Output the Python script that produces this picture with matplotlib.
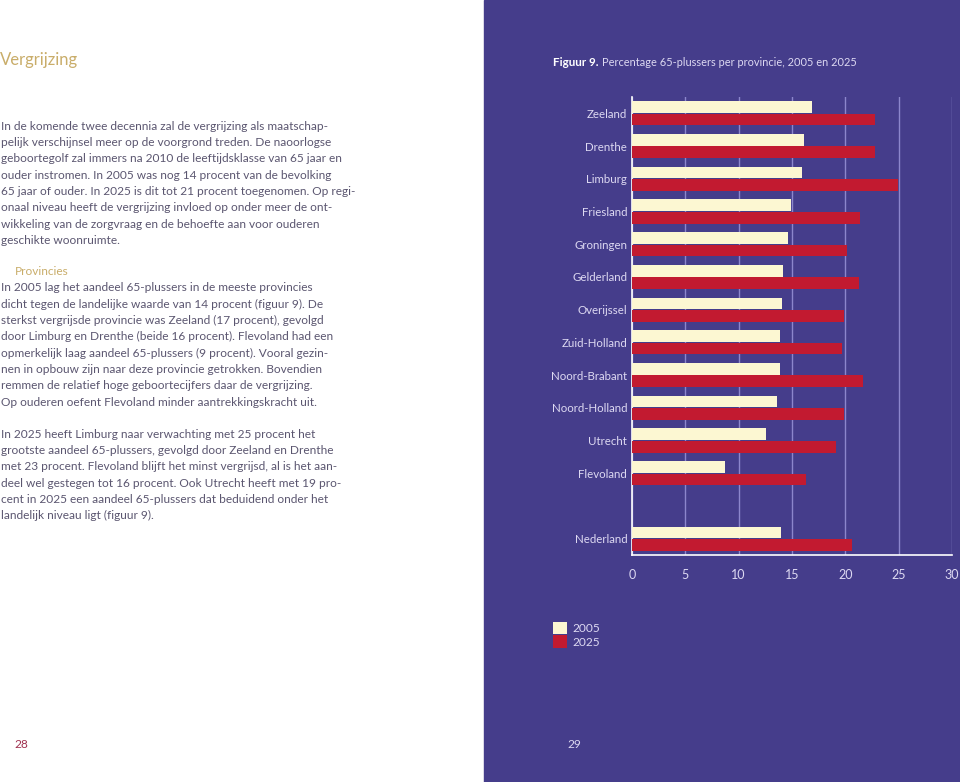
import matplotlib.pyplot as plt
import matplotlib.patches as mpatches
import numpy as np

# data
provincies = ["Zeeland", "Drenthe", "Limburg", "Friesland", "Groningen",
              "Gelderland", "Overijssel", "Zuid-Holland", "Noord-Brabant",
              "Noord-Holland", "Utrecht", "Flevoland", "Nederland"]
pct_2005 = [16.9, 16.1, 15.9, 14.9, 14.6, 14.2, 14.1, 13.9, 13.9, 13.6, 12.6, 8.7, 14.0]
pct_2025 = [22.8, 22.8, 24.9, 21.4, 20.2, 21.3, 19.9, 19.7, 21.7, 19.9, 19.1, 16.3, 20.6]
jaren = ["2005", "2025"]
xticks = [0, 5, 10, 15, 20, 25, 30]

paragraaf1 = [
    "In de komende twee decennia zal de vergrijzing als maatschap-",
    "pelijk verschijnsel meer op de voorgrond treden. De naoorlogse",
    "geboortegolf zal immers na 2010 de leeftijdsklasse van 65 jaar en",
    "ouder instromen. In 2005 was nog 14 procent van de bevolking",
    "65 jaar of ouder. In 2025 is dit tot 21 procent toegenomen. Op regi-",
    "onaal niveau heeft de vergrijzing invloed op onder meer de ont-",
    "wikkeling van de zorgvraag en de behoefte aan voor ouderen",
    "geschikte woonruimte.",
]
paragraaf2 = [
    "In 2005 lag het aandeel 65-plussers in de meeste provincies",
    "dicht tegen de landelijke waarde van 14 procent (figuur 9). De",
    "sterkst vergrijsde provincie was Zeeland (17 procent), gevolgd",
    "door Limburg en Drenthe (beide 16 procent). Flevoland had een",
    "opmerkelijk laag aandeel 65-plussers (9 procent). Vooral gezin-",
    "nen in opbouw zijn naar deze provincie getrokken. Bovendien",
    "remmen de relatief hoge geboortecijfers daar de vergrijzing.",
    "Op ouderen oefent Flevoland minder aantrekkingskracht uit.",
]
paragraaf3 = [
    "In 2025 heeft Limburg naar verwachting met 25 procent het",
    "grootste aandeel 65-plussers, gevolgd door Zeeland en Drenthe",
    "met 23 procent. Flevoland blijft het minst vergrijsd, al is het aan-",
    "deel wel gestegen tot 16 procent. Ook Utrecht heeft met 19 pro-",
    "cent in 2025 een aandeel 65-plussers dat beduidend onder het",
    "landelijk niveau ligt (figuur 9).",
]

paars = "#453d8b"
creme = "#fcf7d2"
rood = "#c21a30"
licht = "#ddd9f2"
grijs = "#5b5670"
goud = "#c9ad6a"

plt.rcParams["font.family"] = ["Lato", "DejaVu Sans"]

W, H = 960, 782
fig = plt.figure(figsize=(9.6, 7.82), dpi=100)
fig.patch.set_facecolor("white")

# purple right-hand page
fig.add_artist(mpatches.Rectangle((484 / W, 0), 1 - 484 / W, 1,
                                  transform=fig.transFigure, color=paars, zorder=0))

# left page text
fig.text(0 / W, 1 - 60 / H, "Vergrijzing", color=goud, fontsize=12, va="center")

def regels(lines, y0, step=16.35):
    for i, line in enumerate(lines):
        fig.text(1 / W, 1 - (y0 + i * step) / H, line, color=grijs,
                 fontsize=8.6, va="center")

regels(paragraaf1, 126)
fig.text(15 / W, 1 - 271.5 / H, "Provincies", color=goud, fontsize=8.6, va="center")
regels(paragraaf2, 287.7)
regels(paragraaf3, 434)

fig.text(14 / W, 1 - 744 / H, "28", color="#a0304f", fontsize=8.6, va="center")
fig.text(567 / W, 1 - 744 / H, "29", color=licht, fontsize=8.6, va="center")

# title of the figure
fig.text(553 / W, 1 - 62 / H, "Figuur 9.", color="white", fontsize=8.4,
         fontweight="bold", va="center")
fig.text(602 / W, 1 - 62 / H, "Percentage 65-plussers per provincie, 2005 en 2025",
         color=licht, fontsize=7.9, va="center")

# chart
ax = fig.add_axes([632 / W, 1 - 555 / H, 320 / W, 458 / H])
ax.set_facecolor(paars)
pos = np.arange(len(provincies), dtype=float)
pos[-1] += 1  # empty row before Nederland
h = 0.36
b1 = ax.barh(pos - 0.19, pct_2005, height=h, color=creme, zorder=3, label=jaren[0])
b2 = ax.barh(pos + 0.19, pct_2025, height=h, color=rood, zorder=3, label=jaren[1])

ax.set_xlim(0, 30)
ax.set_ylim(pos[-1] + 0.5, -0.5)
ax.set_xticks(xticks)
ax.set_xticklabels([str(v) for v in xticks])
ax.set_yticks(pos)
ax.set_yticklabels(provincies)
ax.tick_params(axis="both", length=0, colors=licht)
ax.tick_params(axis="x", pad=10, labelsize=9)
ax.tick_params(axis="y", pad=3.5, labelsize=8.3)
for lbl in ax.get_xticklabels() + ax.get_yticklabels():
    lbl.set_color(licht)
ax.grid(axis="x", color="#8c86cc", linewidth=1, zorder=1)
ax.grid(axis="y", visible=False)
for s in ["top", "right"]:
    ax.spines[s].set_visible(False)
for s in ["left", "bottom"]:
    ax.spines[s].set_color("white")
    ax.spines[s].set_linewidth(1.2)

fig.legend(handles=[b1, b2], labels=jaren, loc="upper left",
           bbox_to_anchor=(547 / W, 1 - 616 / H), frameon=False,
           handlelength=1.2, handleheight=1.2, handletextpad=0.45,
           labelspacing=0.1, fontsize=8.6, labelcolor=licht, borderpad=0)

fig.savefig("out.png", dpi=100, facecolor=fig.get_facecolor())
